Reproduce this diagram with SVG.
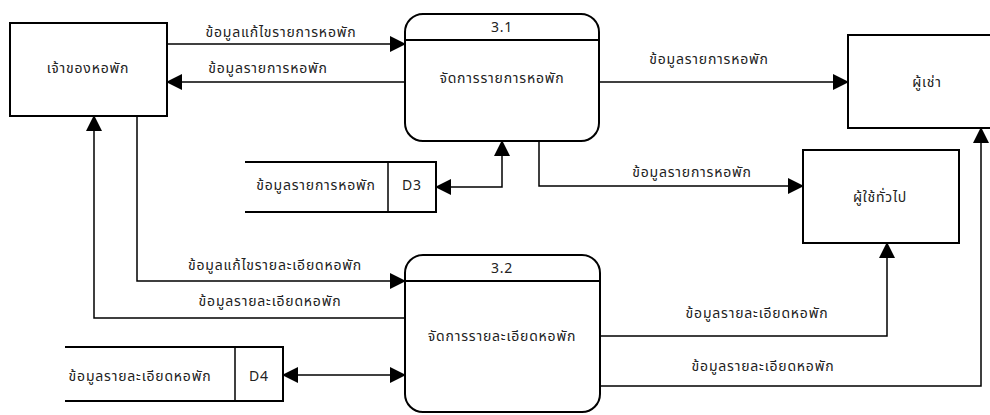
<svg xmlns="http://www.w3.org/2000/svg" width="990" height="415" viewBox="0 0 990 415">
<defs>
<marker id="arr" markerUnits="userSpaceOnUse" markerWidth="16" markerHeight="16" refX="15" refY="8" orient="auto-start-reverse" viewBox="0 0 16 16">
<path d="M0,0 L16,8 L0,16 Z" fill="#000"/>
</marker>
<style>
.box{fill:#fff;stroke:#000;stroke-width:2}
.ln{fill:none;stroke:#000;stroke-width:1.5}
.conn{fill:none;stroke:#000;stroke-width:1.5;marker-end:url(#arr)}
.both{marker-start:url(#arr)}
text{font-family:"Noto Sans Thai","Noto Sans","Liberation Sans",sans-serif;font-size:14px;letter-spacing:0.8px;fill:#222;text-anchor:middle;dominant-baseline:central}
</style>
</defs>
<rect width="990" height="415" fill="#fff"/>
<g id="connectors">
<path class="conn" d="M167,44 H405"/>
<path class="conn" d="M405,82 H167"/>
<path class="conn" d="M599,82 H848"/>
<path class="conn" d="M539,141 V186 H803"/>
<path class="conn both" d="M436,187 H502 V141"/>
<path class="conn" d="M137,116 V281 H405"/>
<path class="conn" d="M405,318 H94 V116"/>
<path class="conn both" d="M283,375 H405"/>
<path class="conn" d="M600,336 H887 V243"/>
<path class="conn" d="M600,386 H981 V128"/>
<text x="281" y="32">ข้อมูลแก้ไขรายการหอพัก</text>
<text x="268" y="68">ข้อมูลรายการหอพัก</text>
<text x="709" y="59">ข้อมูลรายการหอพัก</text>
<text x="692" y="172">ข้อมูลรายการหอพัก</text>
<text x="275" y="265">ข้อมูลแก้ไขรายละเอียดหอพัก</text>
<text x="270" y="301">ข้อมูลรายละเอียดหอพัก</text>
<text x="757" y="313">ข้อมูลรายละเอียดหอพัก</text>
<text x="763" y="366">ข้อมูลรายละเอียดหอพัก</text>
</g>
<g id="owner">
<rect class="box" x="10" y="23" width="157" height="93"/>
<text x="88" y="68">เจ้าของหอพัก</text>
</g>
<g id="tenant">
<rect class="box" x="848" y="35" width="160" height="93"/>
<text x="927" y="82">ผู้เช่า</text>
</g>
<g id="user">
<rect class="box" x="803" y="150" width="156" height="93"/>
<text x="880" y="197">ผู้ใช้ทั่วไป</text>
</g>
<g id="p31">
<rect class="box" x="405" y="14" width="194" height="127" rx="18"/>
<line class="ln" x1="405" y1="40" x2="599" y2="40" style="stroke-width:2"/>
<text x="502" y="27">3.1</text>
<text x="502" y="78">จัดการรายการหอพัก</text>
</g>
<g id="p32">
<rect class="box" x="405" y="255" width="195" height="157" rx="18"/>
<line class="ln" x1="405" y1="281" x2="600" y2="281" style="stroke-width:2"/>
<text x="502" y="268">3.2</text>
<text x="502" y="336">จัดการรายละเอียดหอพัก</text>
</g>
<g id="d3">
<path class="box" d="M245,162 H436 V212 H245"/>
<line class="ln" x1="388" y1="162" x2="388" y2="212"/>
<text x="316" y="185">ข้อมูลรายการหอพัก</text>
<text x="412" y="185">D3</text>
</g>
<g id="d4">
<path class="box" d="M65,347 H283 V401 H65"/>
<line class="ln" x1="235" y1="347" x2="235" y2="401"/>
<text x="140" y="376">ข้อมูลรายละเอียดหอพัก</text>
<text x="259" y="376">D4</text>
</g>
</svg>
